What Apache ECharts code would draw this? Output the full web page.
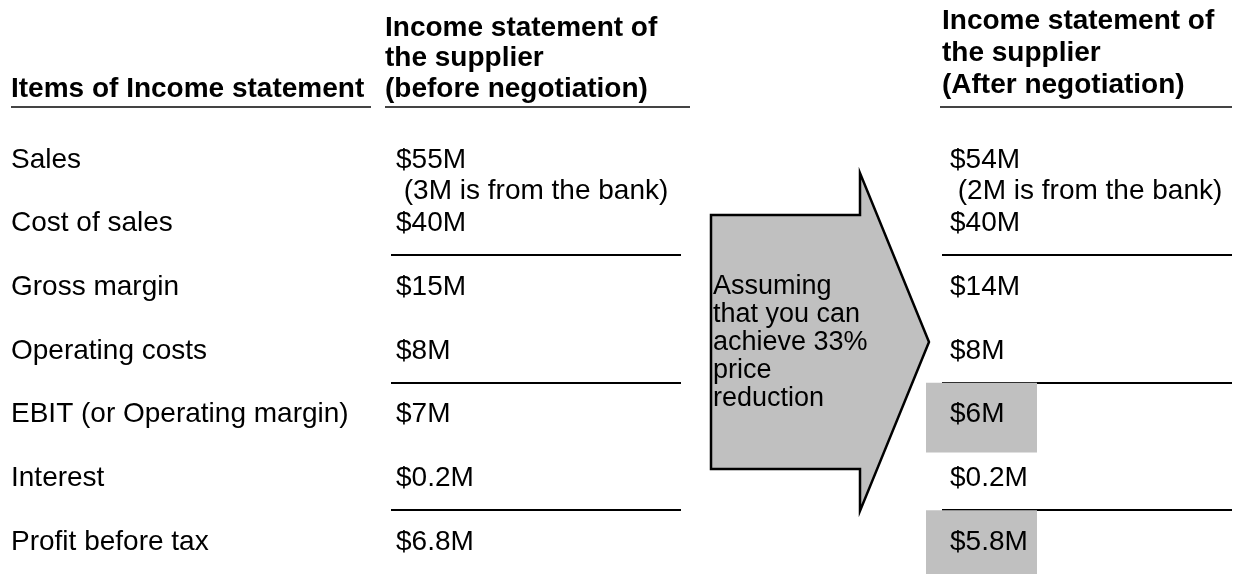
<!DOCTYPE html>
<html>
<head>
<meta charset="utf-8">
<script src="https://cdn.jsdelivr.net/npm/echarts@6/dist/echarts.min.js"></script>
<style>
  html, body { margin: 0; padding: 0; background: #fff; }
  #main { width: 1240px; height: 574px; }
</style>
</head>
<body>
<div id="main"></div>
<script>
// rows of the income statement
var items = ['Sales', 'Cost of sales', 'Gross margin', 'Operating costs',
             'EBIT (or Operating margin)', 'Interest', 'Profit before tax'];
// $M, before and after the negotiation
var before = [55, 40, 15, 8, 7, 0.2, 6.8];
var after = [54, 40, 14, 8, 6, 0.2, 5.8];
// part of sales that comes from the bank ($M)
var bankBefore = 3;
var bankAfter = 2;
// rows followed by a rule, rows highlighted in the "after" column
var ruledRows = [1, 3, 5];
var shadedRows = [4, 6];

var headItems = 'Items of Income statement';
var headBefore = ['Income statement of', 'the supplier', '(before negotiation)'];
var headAfter = ['Income statement of', 'the supplier', '(After negotiation)'];
var arrowText = ['Assuming', 'that you can', 'achieve 33%', 'price', 'reduction'];

var FONT = '"Liberation Sans", Arial, sans-serif';
var font = '28px ' + FONT;
var bold = 'bold 28px ' + FONT;

function money(v) { return '$' + v + 'M'; }

var chart = echarts.init(document.getElementById('main'));

function renderRow(params, api) {
  var i = api.value(0);
  var y = api.coord([0, i])[1];
  var band = api.size([0, 1])[1];
  var px = function (v) { return api.coord([v, i])[0]; };
  var kids = [];
  if (shadedRows.indexOf(i) >= 0) {
    kids.push({ type: 'rect', shape: { x: px(926), y: y - band / 2, width: 111, height: band + 6 },
      style: { fill: '#c0c0c0' } });
  }
  kids.push({ type: 'text', style: { text: money(before[i]), x: px(396), y: y, font: font, fill: '#000', verticalAlign: 'middle' } });
  kids.push({ type: 'text', style: { text: money(after[i]), x: px(950), y: y, font: font, fill: '#000', verticalAlign: 'middle' } });
  if (i === 0) {
    kids.push({ type: 'text', style: { text: ' (' + bankBefore + 'M is from the bank)', x: px(396), y: y + band / 2, font: font, fill: '#000', verticalAlign: 'middle' } });
    kids.push({ type: 'text', style: { text: ' (' + bankAfter + 'M is from the bank)', x: px(950), y: y + band / 2, font: font, fill: '#000', verticalAlign: 'middle' } });
  }
  if (ruledRows.indexOf(i) >= 0) {
    var ly = Math.round(y + band / 2);
    kids.push({ type: 'line', shape: { x1: px(391), y1: ly, x2: px(681), y2: ly }, style: { stroke: '#000', lineWidth: 2 } });
    kids.push({ type: 'line', shape: { x1: px(942), y1: ly, x2: px(1232), y2: ly }, style: { stroke: '#000', lineWidth: 2 } });
  }
  return { type: 'group', children: kids };
}

function headText(lines, x, ys) {
  return lines.map(function (t, k) {
    return { type: 'text', x: x, y: ys[k], style: { text: t, font: bold, fill: '#000', verticalAlign: 'middle' } };
  });
}

var graphics = []
  .concat(headText([headItems], 11, [89]))
  .concat(headText(headBefore, 385, [28, 58, 89]))
  .concat(headText(headAfter, 942, [21, 53, 85]))
  .concat([
    { type: 'line', shape: { x1: 11, y1: 107, x2: 371, y2: 107 }, style: { stroke: '#444', lineWidth: 2 } },
    { type: 'line', shape: { x1: 385, y1: 107, x2: 690, y2: 107 }, style: { stroke: '#444', lineWidth: 2 } },
    { type: 'line', shape: { x1: 940, y1: 107, x2: 1232, y2: 107 }, style: { stroke: '#444', lineWidth: 2 } },
    {
      type: 'polygon',
      shape: { points: [[711, 215], [860, 215], [860, 173], [929, 342], [860, 511], [860, 469], [711, 469]] },
      style: { fill: '#c0c0c0', stroke: '#000', lineWidth: 2.5 }
    },
    {
      type: 'text', x: 713, y: 273,
      style: { text: arrowText.join('\n'), font: '27px ' + FONT, lineHeight: 28, fill: '#000', verticalAlign: 'top' }
    }
  ]);

chart.setOption({
  animation: false,
  grid: { left: 0, right: 0, top: 128, height: 448 },
  xAxis: { type: 'value', min: 0, max: 1240, show: false },
  yAxis: {
    type: 'category',
    data: items,
    inverse: true,
    axisLine: { show: false },
    axisTick: { show: false },
    splitLine: { show: false },
    axisLabel: { inside: true, margin: 11, fontSize: 28, color: '#000', fontFamily: FONT }
  },
  graphic: graphics,
  series: [{
    type: 'custom',
    renderItem: renderRow,
    encode: { x: 1, y: 0 },
    data: items.map(function (_, i) { return [i, before[i], after[i]]; }),
    z: 2
  }]
});
</script>
</body>
</html>
